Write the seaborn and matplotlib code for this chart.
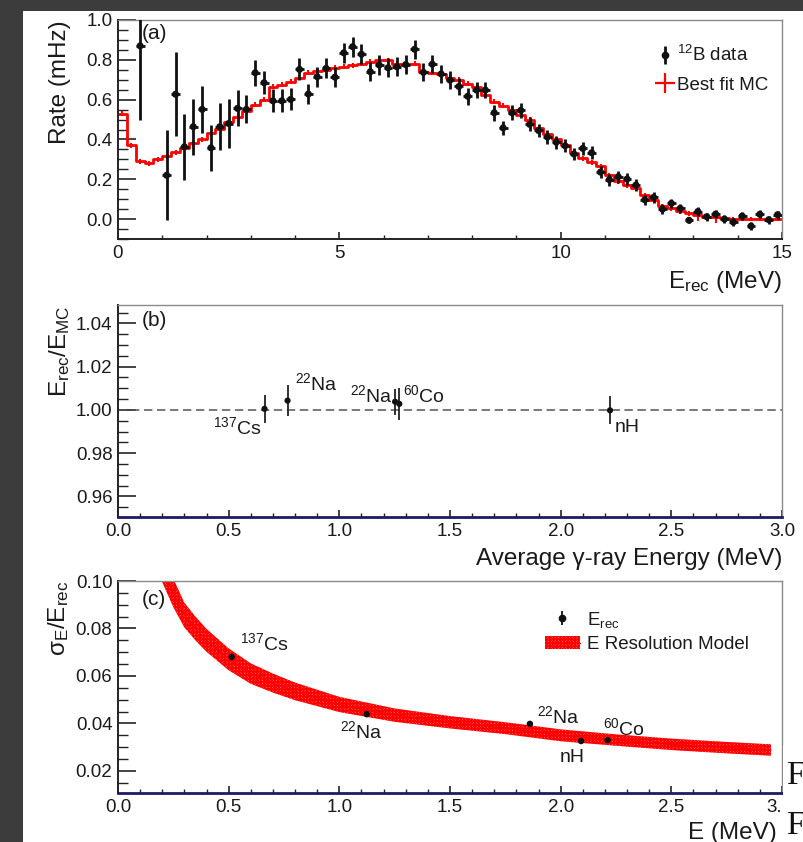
import numpy as np
import pandas as pd
import seaborn as sns
import matplotlib
matplotlib.use("Agg")
import matplotlib.pyplot as plt
from matplotlib.lines import Line2D
from matplotlib.patches import Patch, Rectangle
from matplotlib.ticker import MultipleLocator, FormatStrFormatter, FuncFormatter

# ---------------- (a) 12B beta spectrum ----------------
b12_energy = [0.5, 1.1, 1.3, 1.5, 1.7, 1.9, 2.1, 2.3, 2.5, 2.7,
              2.9, 3.1, 3.3, 3.5, 3.7, 3.9, 4.1, 4.3, 4.5, 4.7,
              4.9, 5.1, 5.3, 5.5, 5.7, 5.9, 6.1, 6.3, 6.5, 6.7,
              6.9, 7.1, 7.3, 7.5, 7.7, 7.9, 8.1, 8.3, 8.5, 8.7,
              8.9, 9.1, 9.3, 9.5, 9.7, 9.9, 10.1, 10.3, 10.5, 10.7,
              10.9, 11.1, 11.3, 11.5, 11.7, 11.9, 12.1, 12.3, 12.5, 12.7,
              12.9, 13.1, 13.3, 13.5, 13.7, 13.9, 14.1, 14.3, 14.5, 14.7, 14.9]
b12_rate = [0.87, 0.22, 0.627, 0.363, 0.464, 0.551, 0.358, 0.464, 0.48, 0.556,
            0.551, 0.735, 0.685, 0.594, 0.594, 0.601, 0.752, 0.628, 0.715, 0.757,
            0.713, 0.835, 0.866, 0.828, 0.74, 0.774, 0.76, 0.765, 0.776, 0.853,
            0.737, 0.778, 0.729, 0.698, 0.666, 0.617, 0.648, 0.648, 0.534, 0.458,
            0.534, 0.546, 0.476, 0.445, 0.412, 0.386, 0.368, 0.327, 0.355, 0.333,
            0.236, 0.198, 0.213, 0.201, 0.171, 0.097, 0.109, 0.05, 0.079, 0.054,
            -0.006, 0.038, 0.012, 0.025, 0.0, -0.015, 0.015, -0.035, 0.024, -0.003, 0.022]
b12_err = [0.37, 0.225, 0.21, 0.165, 0.14, 0.12, 0.117, 0.117, 0.125, 0.09,
           0.07, 0.065, 0.057, 0.058, 0.058, 0.055, 0.055, 0.05, 0.05, 0.05,
           0.05, 0.05, 0.05, 0.05, 0.048, 0.048, 0.048, 0.048, 0.048, 0.048,
           0.045, 0.045, 0.045, 0.045, 0.042, 0.042, 0.042, 0.042, 0.04, 0.035,
           0.038, 0.038, 0.035, 0.035, 0.035, 0.033, 0.033, 0.032, 0.032, 0.032,
           0.03, 0.03, 0.03, 0.028, 0.028, 0.026, 0.026, 0.024, 0.024, 0.022,
           0.016, 0.022, 0.02, 0.022, 0.02, 0.02, 0.02, 0.02, 0.02, 0.02, 0.02]

mc_bin_edges = [round(0.2 * i, 2) for i in range(76)]
mc_rate = [0.53, 0.37, 0.29, 0.28, 0.30, 0.315, 0.335, 0.355, 0.38, 0.40,
           0.43, 0.455, 0.49, 0.515, 0.545, 0.575, 0.60, 0.665, 0.675, 0.69,
           0.71, 0.735, 0.745, 0.75, 0.76, 0.765, 0.772, 0.78, 0.79, 0.80,
           0.798, 0.78, 0.78, 0.78, 0.74, 0.735, 0.73, 0.71, 0.70, 0.68,
           0.665, 0.625, 0.59, 0.57, 0.55, 0.525, 0.50, 0.46, 0.425, 0.40,
           0.37, 0.33, 0.305, 0.285, 0.265, 0.22, 0.19, 0.17, 0.155, 0.12,
           0.095, 0.065, 0.055, 0.04, 0.03, 0.02, 0.012, 0.008, 0.003, 0.0,
           0.0, 0.0, 0.0, 0.0, 0.0]
mc_err = [0.012] * 65 + [0.028, 0.012, 0.028] + [0.012] * 7

# ---------------- (b) gamma-source energy scale ----------------
gam_energy = [0.662, 0.766, 1.252, 1.271, 2.223]
gam_ratio = [1.0005, 1.0043, 1.0038, 1.0028, 0.9998]
gam_err = [0.0065, 0.007, 0.006, 0.0075, 0.0065]
gam_names = [r"$^{137}$Cs", r"$^{22}$Na", r"$^{22}$Na", r"$^{60}$Co", "nH"]
gam_name_xy = [(0.651, 0.9921, "right"), (0.80, 1.0125, "left"), (1.048, 1.0069, "left"),
               (1.288, 1.0069, "left"), (2.245, 0.9921, "left")]

# ---------------- (c) energy resolution ----------------
res_energy = [0.514, 1.124, 1.861, 2.092, 2.212]
res_value = [0.068, 0.0439, 0.0398, 0.0326, 0.033]
res_names = [r"$^{137}$Cs", r"$^{22}$Na", r"$^{22}$Na", "nH", r"$^{60}$Co"]
res_name_xy = [(0.551, 0.0737), (1.003, 0.0368), (1.893, 0.0432), (1.997, 0.0255), (2.19, 0.0381)]

model_energy = [0.20, 0.25, 0.30, 0.35, 0.40, 0.50, 0.60, 0.70, 0.80, 1.00,
                1.25, 1.50, 1.75, 2.00, 2.25, 2.50, 2.75, 2.95]
model_center = [0.106, 0.095, 0.0856, 0.080, 0.075, 0.067, 0.061, 0.057, 0.0535, 0.048,
                0.0435, 0.0405, 0.0380, 0.0350, 0.0330, 0.0312, 0.0298, 0.0288]
model_half = [0.0065, 0.006, 0.0052, 0.005, 0.0048, 0.0046, 0.0043, 0.004, 0.0037, 0.0032,
              0.0028, 0.0026, 0.0025, 0.0025, 0.0024, 0.0024, 0.0024, 0.0024]

# ---------------- style ----------------
sns.set_style("ticks")
plt.rcParams["font.family"] = ["Liberation Sans", "DejaVu Sans"]
plt.rcParams["mathtext.fontset"] = "custom"
plt.rcParams["mathtext.rm"] = "Liberation Sans"
plt.rcParams["mathtext.it"] = "Liberation Sans:italic"
plt.rcParams["mathtext.bf"] = "Liberation Sans:bold"
plt.rcParams["mathtext.default"] = "regular"
plt.rcParams["hatch.linewidth"] = 0.9
plt.rcParams["text.color"] = "#1a1a1a"

TXT = "#1a1a1a"
W, H = 804, 842
fig = plt.figure(figsize=(W / 100, H / 100), dpi=100, facecolor="#3c3c3c")
fig.add_artist(Rectangle((23 / W, 0), 1 - 23 / W, 1 - 11 / H, transform=fig.transFigure,
                         facecolor="white", edgecolor="none", zorder=-5))


def px_axes(left, top, right, bottom):
    return fig.add_axes([left / W, 1 - bottom / H, (right - left) / W, (bottom - top) / H])


def style_axes(ax, bottom_color, bottom_lw):
    for s in ("top", "right"):
        ax.spines[s].set_color("#8a8a8a")
        ax.spines[s].set_linewidth(1.0)
    ax.spines["left"].set_color("#222222")
    ax.spines["left"].set_linewidth(1.4)
    ax.spines["bottom"].set_color(bottom_color)
    ax.spines["bottom"].set_linewidth(bottom_lw)
    ax.tick_params(axis="both", which="both", direction="in", colors="#222222",
                   labelcolor=TXT, labelsize=13.5)
    ax.tick_params(axis="y", which="major", length=13, width=1.2, pad=4)
    ax.tick_params(axis="y", which="minor", length=7, width=1.0)
    ax.tick_params(axis="x", which="major", length=5, width=1.2, pad=4)
    ax.tick_params(axis="x", which="minor", length=2.7, width=1.0)
    ax.set_facecolor("white")


# ---------------- panel (a) ----------------
ax1 = px_axes(118, 20, 782, 239)
mc_centers = [round((a + b) / 2, 2) for a, b in zip(mc_bin_edges[:-1], mc_bin_edges[1:])]
mc_df = pd.DataFrame({"energy": mc_centers, "rate": mc_rate})
sns.histplot(data=mc_df, x="energy", weights="rate", bins=mc_bin_edges, element="step",
             fill=False, color="red", linewidth=2.0, ax=ax1)
ax1.errorbar(mc_centers, mc_rate, yerr=mc_err, fmt="none", ecolor="red",
             elinewidth=1.5, capsize=0)
ax1.errorbar(b12_energy, b12_rate, yerr=b12_err, xerr=0.1, fmt="none",
             ecolor="#111111", elinewidth=2.0, capsize=0, zorder=3)
sns.scatterplot(x=b12_energy, y=b12_rate, color="#111111", s=26, edgecolor="none",
                ax=ax1, zorder=4)
ax1.set_xlim(0, 15)
ax1.set_ylim(-0.1, 1.0)
style_axes(ax1, "#222222", 1.4)
ax1.xaxis.set_major_locator(MultipleLocator(5))
ax1.xaxis.set_minor_locator(MultipleLocator(1))
ax1.yaxis.set_major_locator(MultipleLocator(0.2))
ax1.yaxis.set_minor_locator(MultipleLocator(0.05))
ax1.xaxis.set_major_formatter(FormatStrFormatter("%d"))
ax1.yaxis.set_major_formatter(FormatStrFormatter("%.1f"))
ax1.set_xlabel(r"E$_{rec}$ (MeV)", fontsize=17.5, loc="right", color=TXT)
ax1.set_ylabel("Rate (mHz)", fontsize=17.5, loc="top", color=TXT)
ax1.xaxis.set_label_coords(1.0, -0.135)
ax1.yaxis.set_label_coords(-0.0708, 1.0)
ax1.text(0.036, 0.94, "(a)", transform=ax1.transAxes, fontsize=15, va="center", ha="left")
h_data = (Line2D([], [], marker="|", ms=13, mew=2, color="#111111", ls="none"),
          Line2D([], [], marker="o", ms=4.5, color="#111111", ls="none"))
h_mc = Line2D([], [], marker="+", ms=15, mew=1.6, color="red", ls="none")
ax1.legend([h_data, h_mc], [r"$^{12}$B data", "Best fit MC"], loc="upper left",
           bbox_to_anchor=(0.812, 0.885), frameon=False, fontsize=13.5,
           handlelength=0.8, handletextpad=0.25, labelspacing=0.6,
           borderpad=0, borderaxespad=0)

# ---------------- panel (b) ----------------
ax2 = px_axes(118, 305, 782, 517)
ax2.axhline(1.0, color="#555555", lw=1.1, ls=(0, (5.5, 3)), zorder=1)
ax2.errorbar(gam_energy, gam_ratio, yerr=gam_err, fmt="none", ecolor="#222222",
             elinewidth=1.3, capsize=0, zorder=3)
sns.scatterplot(x=gam_energy, y=gam_ratio, color="#111111", s=20, edgecolor="none",
                ax=ax2, zorder=4)
for name, (tx, ty, ha) in zip(gam_names, gam_name_xy):
    ax2.text(tx, ty, name, fontsize=14, ha=ha, va="center")
ax2.set_xlim(0, 3)
ax2.set_ylim(0.9505, 1.0485)
style_axes(ax2, "#1c1c64", 2.0)
ax2.xaxis.set_major_locator(MultipleLocator(0.5))
ax2.xaxis.set_minor_locator(MultipleLocator(0.1))
ax2.yaxis.set_major_locator(MultipleLocator(0.02))
ax2.yaxis.set_minor_locator(MultipleLocator(0.005))
ax2.xaxis.set_major_formatter(FormatStrFormatter("%.1f"))
ax2.yaxis.set_major_formatter(FormatStrFormatter("%.2f"))
ax2.set_xlabel("Average γ-ray Energy (MeV)", fontsize=17.5, loc="right", color=TXT)
ax2.set_ylabel(r"E$_{rec}$/E$_{MC}$", fontsize=17.5, loc="top", color=TXT)
ax2.xaxis.set_label_coords(1.0, -0.145)
ax2.yaxis.set_label_coords(-0.0693, 1.0)
ax2.text(0.036, 0.929, "(b)", transform=ax2.transAxes, fontsize=15, va="center", ha="left")

# ---------------- panel (c) ----------------
ax3 = px_axes(118, 581, 782, 793)
lo = np.array(model_center) - np.array(model_half)
hi = np.array(model_center) + np.array(model_half)
ax3.fill_between(model_energy, lo, hi, facecolor="#ffc8c8", edgecolor="red",
                 hatch="xxxxxxxxxxxx", linewidth=0, zorder=2)
sns.lineplot(x=model_energy, y=model_center, color="red", linewidth=1.0, ax=ax3, zorder=2)
sns.scatterplot(x=res_energy, y=res_value, color="#111111", s=22, edgecolor="none",
                ax=ax3, zorder=4)
for name, (tx, ty) in zip(res_names, res_name_xy):
    ax3.text(tx, ty, name, fontsize=14, ha="left", va="center")
ax3.set_xlim(0, 3)
ax3.set_ylim(0.0107, 0.10)
style_axes(ax3, "#1c1c64", 2.0)
ax3.xaxis.set_major_locator(MultipleLocator(0.5))
ax3.xaxis.set_minor_locator(MultipleLocator(0.1))
ax3.yaxis.set_major_locator(MultipleLocator(0.02))
ax3.yaxis.set_minor_locator(MultipleLocator(0.005))
# the last label sits at the page edge, where only "3." remains visible
ax3.xaxis.set_major_formatter(FuncFormatter(lambda v, p: "3." if v > 2.99 else f"{v:.1f}"))
ax3.yaxis.set_major_formatter(FormatStrFormatter("%.2f"))
ax3.set_xlabel("E (MeV)", fontsize=17.5, loc="right", color=TXT)
ax3.set_ylabel(r"σ$_{E}$/E$_{rec}$", fontsize=17.5, loc="top", color=TXT)
ax3.xaxis.set_label_coords(0.992, -0.135)
ax3.yaxis.set_label_coords(-0.0708, 1.0)
ax3.text(0.036, 0.915, "(c)", transform=ax3.transAxes, fontsize=15, va="center", ha="left")
h_pt = (Line2D([], [], marker="|", ms=10, mew=1.3, color="#111111", ls="none"),
        Line2D([], [], marker="o", ms=4.5, color="#111111", ls="none"))
h_band = (Patch(facecolor="#ffc8c8", edgecolor="red", hatch="xxxxxxxxxxxx", linewidth=0),
          Line2D([], [], color="red", lw=1.0))
ax3.legend([h_pt, h_band], [r"E$_{rec}$", "E Resolution Model"], loc="upper left",
           bbox_to_anchor=(0.643, 0.865), frameon=False, fontsize=13.5,
           handlelength=1.87, handletextpad=0.37, labelspacing=0.35,
           borderpad=0, borderaxespad=0)

for ax in (ax1, ax2, ax3):
    for lab in ax.get_xticklabels() + ax.get_yticklabels():
        lab.set_color(TXT)

# page edge to the right of panel (c)
fig.add_artist(Rectangle((783 / W, 0), (W - 783) / W, (H - 745) / H, transform=fig.transFigure,
                         facecolor="white", edgecolor="none", zorder=10))
for yy in (776, 826):
    fig.text(786 / W, 1 - yy / H, "F", family=["Liberation Serif", "DejaVu Serif"],
             fontsize=24, va="center", ha="left", color="#111111", zorder=11)

fig.canvas.draw()
for tick in ax3.xaxis.get_major_ticks():
    if tick.get_loc() > 2.99:
        tick.label1.set_horizontalalignment("right")

fig.savefig("out.png", dpi=100, facecolor=fig.get_facecolor())
